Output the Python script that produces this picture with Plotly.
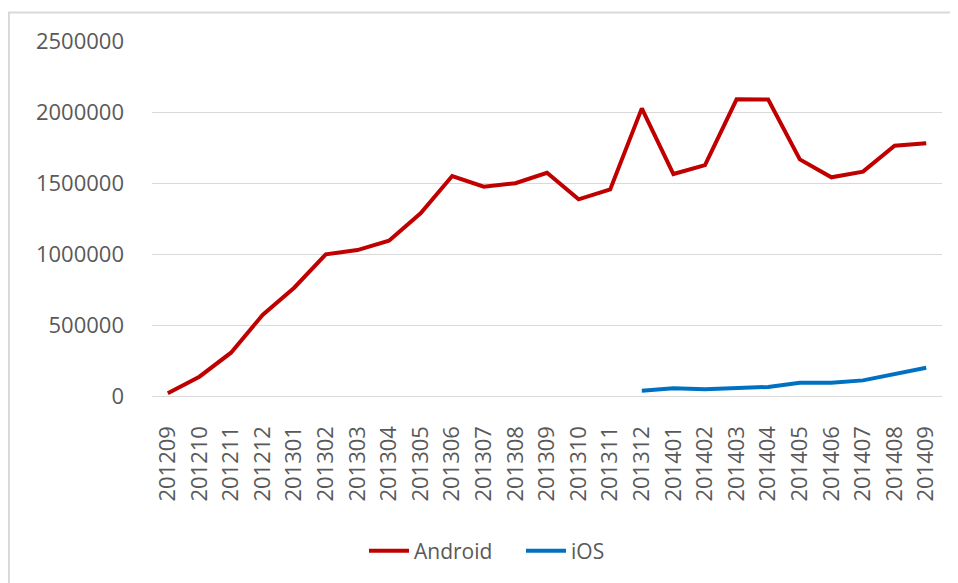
import plotly.graph_objects as go

months = ["201209", "201210", "201211", "201212", "201301", "201302", "201303", "201304",
          "201305", "201306", "201307", "201308", "201309", "201310", "201311", "201312",
          "201401", "201402", "201403", "201404", "201405", "201406", "201407", "201408",
          "201409"]
android = [21000, 138000, 307000, 572000, 764000, 999000, 1029000, 1095000,
           1288000, 1550000, 1475000, 1499000, 1573000, 1386000, 1456000, 2026000,
           1564000, 1627000, 2090000, 2088000, 1667000, 1541000, 1581000, 1763000,
           1780000]
ios = [None] * 15 + [39000, 56000, 49000, 58000, 66000, 95000, 95000, 112000, 160000, 201000]
y_ticks = [0, 500000, 1000000, 1500000, 2000000, 2500000]

W, H = 958, 583
OFF = 8  # page body margin
font = "Open Sans"
gray = "#595959"

fig = go.Figure()
fig.add_trace(go.Scatter(x=months, y=android, mode="lines", name="Android",
                         line=dict(color="#C00000", width=4)))
fig.add_trace(go.Scatter(x=months, y=ios, mode="lines", name="iOS",
                         line=dict(color="#0070C0", width=4)))

fig.update_layout(
    width=W, height=H,
    margin=dict(l=0, r=0, t=0, b=0),
    paper_bgcolor="white", plot_bgcolor="white",
    font=dict(family=font, size=22, color=gray),
    showlegend=True,
    legend=dict(orientation="h", x=(369 - OFF - 5) / W, xanchor="left",
                y=1 - (551 - OFF) / H, yanchor="middle",
                font=dict(family=font, size=21, color=gray), itemwidth=40,
                entrywidth=102, entrywidthmode="pixels",
                bgcolor="rgba(0,0,0,0)"),
    xaxis=dict(domain=[(152 - OFF) / W, (942 - OFF) / W], type="category", range=[-0.5, 24.5],
               tickangle=-90, showgrid=False, showline=True, linecolor="#D9D9D9",
               linewidth=1, ticks="", ticklabelstandoff=20, automargin=False,
               tickfont=dict(family=font, size=22, color=gray)),
    yaxis=dict(domain=[1 - (396.3 - OFF) / H, 1 - (41 - OFF) / H], range=[0, 2500000],
               tickvals=y_ticks, ticktext=[str(v) for v in y_ticks],
               showgrid=True, gridcolor="#D9D9D9", gridwidth=1, zeroline=False,
               showline=False, ticks="", ticklabelstandoff=27, automargin=False,
               tickfont=dict(family=font, size=22, color=gray)),
    shapes=[dict(type="rect", xref="paper", yref="paper", x0=(9 - OFF) / W, x1=1.05,
                 y0=-0.05, y1=1 - (12.5 - OFF) / H, line=dict(color="#D9D9D9", width=2),
                 layer="below")],
)

fig.write_html("out.html")
